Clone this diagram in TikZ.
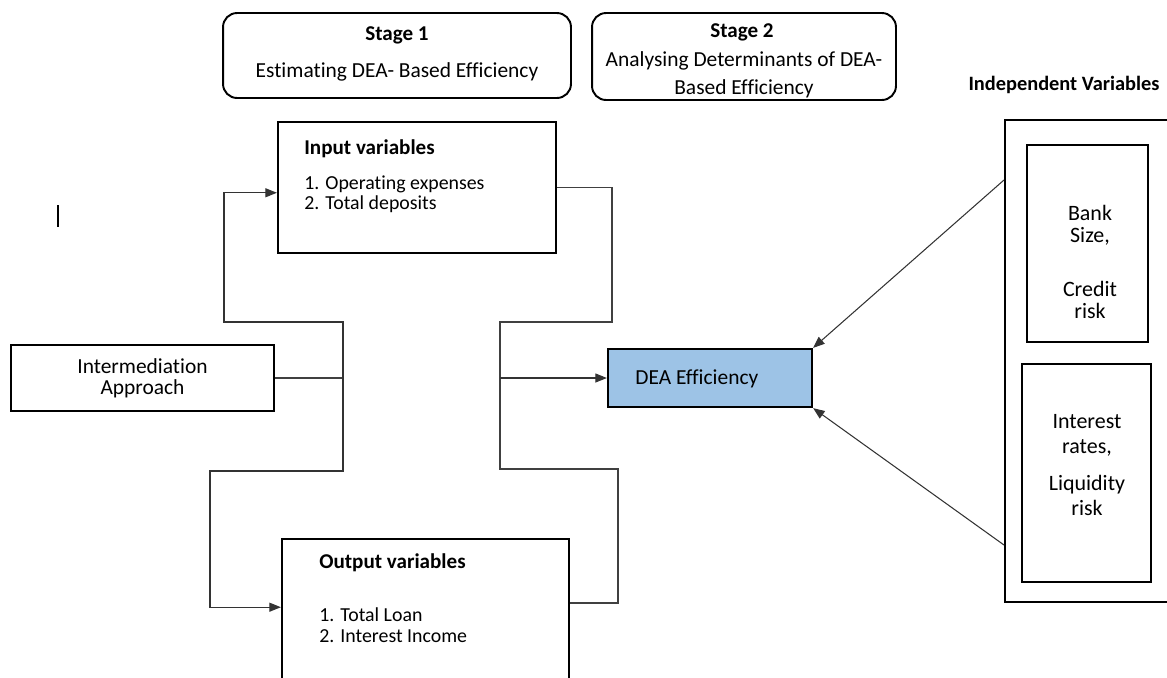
\documentclass[tikz,border=0pt]{standalone}
\usepackage{fontspec}
\setmainfont{Carlito}[Ligatures={NoCommon}]
\usetikzlibrary{positioning,arrows.meta,calc}
\definecolor{deablue}{HTML}{9DC3E6}
\tikzset{
  flowarrow/.style={-{Triangle[length=2.3mm,width=1.8mm]}, line width=0.6pt, black!80},
  flowline/.style={line width=0.6pt, black!75},
  stagebox/.style={draw, rounded corners=8pt, line width=1.1pt},
  varbox/.style={draw, line width=1.3pt},
  dimbox/.style={draw, line width=0.8pt},
  headtxt/.style={font=\bfseries\fontsize{12}{14}\selectfont, inner sep=0pt},
  listtxt/.style={font=\fontsize{11.3}{11.4}\selectfont, align=left, inner sep=0pt},
  bodytxt/.style={font=\fontsize{12.2}{12}\selectfont, align=center, inner sep=0pt}
}
\begin{document}
\begin{tikzpicture}[x=0.02cm, y=-0.02cm]
  \useasboundingbox (0,0) rectangle (1167,677);
  % stages
  \node[stagebox, minimum width=6.96cm, minimum height=1.7cm] (stage1) at (397,55.5) {};
  \node[headtxt] (s1head) at (397,35) {Stage 1};
  \node[bodytxt] (s1text) at (397,72) {Estimating DEA- Based Efficiency};
  \node[stagebox, minimum width=6.08cm, minimum height=1.74cm] (stage2) at (744,56.5) {};
  \node[headtxt] (s2head) at (742,32) {Stage 2};
  \node[bodytxt, font=\fontsize{12.2}{16}\selectfont] (s2text) at (744,75) {Analysing Determinants of DEA-\\Based Efficiency};
  % variable boxes
  \node[varbox, minimum width=5.56cm, minimum height=2.62cm] (inbox) at (417,187.5) {};
  \node[headtxt, anchor=west] (inhead) at (304,149) {Input variables};
  \node[listtxt, anchor=north west] (inlist) at (304,175) {1. Operating expenses\\2. Total deposits};
  \node[varbox, minimum width=5.74cm, minimum height=3.22cm] (outbox) at (425.5,619.5) {};
  \node[headtxt, anchor=west] (outhead) at (319,563) {Output variables};
  \node[listtxt, font=\fontsize{11.3}{12}\selectfont, anchor=north west] (outlist) at (319,607) {1. Total Loan\\2. Interest Income};
  \node[varbox, bodytxt, font=\fontsize{12.2}{12}\selectfont, minimum width=5.26cm, minimum height=1.32cm] (intapp) at (142.5,378) {Intermediation\\Approach};
  \node[varbox, fill=deablue, minimum width=4.08cm, minimum height=1.16cm] (dea) at (710,378) {};
  \node[bodytxt, anchor=west] (dealabel) at (635,379) {DEA Efficiency};
  % independent variables
  \node[headtxt, font=\bfseries\fontsize{11.6}{14}\selectfont] (indhead) at (1064,85) {Independent Variables};
  \node[varbox, anchor=north west, minimum width=3.8cm, minimum height=9.64cm] (indbox) at (1004,119) {};
  \node[dimbox, minimum width=2.42cm, minimum height=3.94cm] (riskone) at (1087.5,243.5) {};
  \node[bodytxt, font=\fontsize{12.5}{12.5}\selectfont] (riskonetxt) at (1090,262) {Bank\\Size,\\[18pt]Credit\\risk};
  \node[dimbox, minimum width=2.58cm, minimum height=4.36cm] (risktwo) at (1086.5,473) {};
  \node[bodytxt, font=\fontsize{12.5}{14.2}\selectfont] (risktwotxt) at (1087,465) {Interest\\rates,\\[7pt]Liquidity\\risk};
  % connectors
  \coordinate (leftjoin) at (343,378);
  \coordinate (leftup) at (224,322);
  \coordinate (leftdown) at (210,471);
  \coordinate (rightup) at (612,322);
  \coordinate (rightdown) at (500,469);
  \coordinate (rightlow) at (618,603);
  \coordinate (rightjoin) at (500,378);
  \coordinate (fromone) at (1004,180);
  \coordinate (fromtwo) at (1004,545);
  \draw[flowline] (intapp.east) -- (leftjoin);
  \draw[flowarrow] (leftjoin) |- (leftup) |- ([yshift=-3pt]inbox.west);
  \draw[flowarrow] (leftjoin) |- (leftdown) |- ([yshift=7pt]outbox.west);
  \draw[flowline] (inbox.east) -| (rightup) -| (rightdown) -| (rightlow) -- (rightlow -| outbox.east);
  \draw[flowarrow] (rightjoin) -- (dea.west);
  \draw[flowarrow] (fromone) -- (dea.north east);
  \draw[flowarrow] (fromtwo) -- (dea.south east);
  % stray bar
  \coordinate (bartop) at (58,205);
  \coordinate (barbot) at (58,227);
  \draw[line width=1pt] (bartop) -- (barbot);
\end{tikzpicture}
\end{document}
